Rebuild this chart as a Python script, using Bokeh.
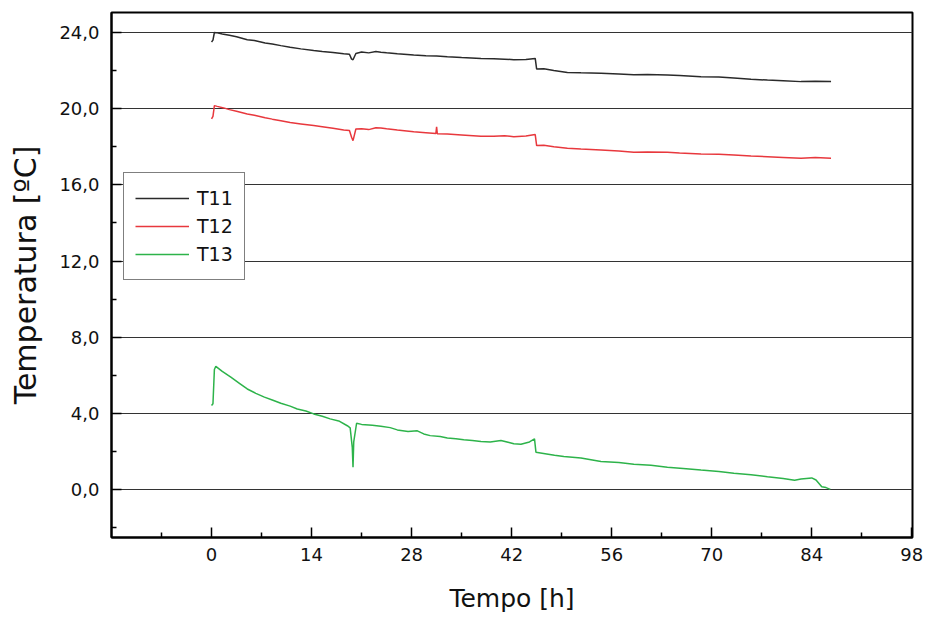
from bokeh.plotting import figure
from bokeh.models import FixedTicker, CustomJSTickFormatter, Range1d, Legend
from bokeh.embed import file_html
from bokeh.resources import INLINE

# ---- data ----
t11_t = [0.0, 0.2, 0.4, 0.8, 1.5, 2.5, 3.5, 5.0, 6.0, 7.5,
         8.5, 9.7, 11.0, 12.5, 14.3, 15.5, 17.0, 18.5, 19.3, 19.6,
         19.8, 20.2, 21.0, 22.0, 23.0, 23.7, 24.5, 26.0, 28.3, 30.0,
         31.5, 33.0, 35.0, 37.7, 39.5, 41.0, 42.3, 44.0, 45.3, 45.5,
         46.5, 47.9, 49.8, 51.7, 54.5, 57.0, 59.1, 61.0, 63.8, 65.5,
         68.5, 71.0, 73.1, 75.5, 77.8, 80.0, 82.5, 84.5, 86.7]
t11_v = [23.5, 23.6, 24.0, 23.98, 23.92, 23.85, 23.78, 23.62, 23.58, 23.45,
         23.40, 23.31, 23.22, 23.14, 23.05, 23.0, 22.95, 22.88, 22.86, 22.6,
         22.57, 22.9, 22.98, 22.93, 23.0, 22.96, 22.93, 22.88, 22.82, 22.78,
         22.77, 22.73, 22.69, 22.64, 22.62, 22.60, 22.57, 22.58, 22.64, 22.08,
         22.1, 22.0, 21.9, 21.88, 21.86, 21.82, 21.78, 21.79, 21.77, 21.74,
         21.68, 21.66, 21.61, 21.55, 21.5, 21.47, 21.42, 21.44, 21.42]

t12_t = [0.0, 0.2, 0.4, 0.8, 1.7, 2.5, 3.5, 5.0, 6.0, 7.5,
         8.5, 9.7, 11.0, 12.5, 14.3, 15.5, 17.0, 18.5, 19.3, 19.6,
         19.8, 20.2, 21.0, 22.0, 23.0, 23.7, 24.5, 26.0, 28.3, 30.0,
         31.4, 31.5, 31.6, 33.0, 35.0, 37.7, 39.5, 41.0, 42.3, 44.0,
         45.3, 45.5, 46.5, 47.9, 49.8, 51.7, 54.5, 57.0, 59.1, 61.0,
         63.8, 65.5, 68.5, 71.0, 73.1, 75.5, 77.8, 80.0, 82.5, 84.5,
         86.7]
t12_v = [19.46, 19.6, 20.16, 20.12, 20.04, 19.95, 19.86, 19.72, 19.65, 19.52,
         19.45, 19.37, 19.27, 19.2, 19.11, 19.05, 18.97, 18.88, 18.85, 18.5,
         18.32, 18.93, 18.95, 18.9, 19.0, 18.99, 18.95, 18.88, 18.79, 18.74,
         18.70, 19.05, 18.68, 18.67, 18.62, 18.55, 18.55, 18.58, 18.53, 18.56,
         18.64, 18.06, 18.08, 18.0, 17.92, 17.88, 17.83, 17.78, 17.71, 17.73,
         17.71, 17.67, 17.62, 17.6, 17.57, 17.52, 17.48, 17.44, 17.39, 17.43,
         17.4]

t13_t = [0.0, 0.2, 0.4, 0.6, 1.5, 2.7, 4.0, 5.0, 6.2, 7.4,
         8.5, 9.7, 11.0, 12.0, 13.2, 14.3, 15.5, 16.6, 17.8, 19.0,
         19.4, 19.7, 19.8, 19.9, 20.3, 21.0, 22.5, 23.7, 25.0, 26.0,
         27.5, 28.8, 29.7, 30.6, 32.0, 33.0, 34.2, 35.3, 36.5, 37.7,
         39.0, 40.5, 41.5, 42.3, 43.3, 44.5, 45.2, 45.4, 46.9, 48.0,
         49.3, 51.7, 54.5, 57.0, 59.1, 61.5, 63.8, 66.0, 68.5, 71.0,
         73.1, 75.5, 77.8, 80.0, 81.6, 82.5, 84.0, 84.6, 85.4, 86.0,
         86.6]
t13_v = [4.41, 4.5, 6.3, 6.47, 6.2, 5.9, 5.55, 5.28, 5.05, 4.85,
         4.7, 4.53, 4.38, 4.23, 4.12, 3.97, 3.85, 3.71, 3.6, 3.35,
         3.24, 2.2, 1.17, 2.5, 3.48, 3.42, 3.38, 3.32, 3.25, 3.13,
         3.05, 3.08, 2.92, 2.83, 2.78, 2.71, 2.66, 2.61, 2.58, 2.52,
         2.5, 2.57, 2.48, 2.4, 2.38, 2.5, 2.66, 1.96, 1.87, 1.8,
         1.73, 1.66, 1.47, 1.42, 1.33, 1.27, 1.17, 1.1, 1.02, 0.95,
         0.85, 0.78, 0.67, 0.58, 0.49, 0.55, 0.61, 0.5, 0.14, 0.1,
         0.01]

series_names = ["T11", "T12", "T13"]
series_colors = ["#2a2a2a", "#e8383d", "#2db34a"]

x_major = [0, 14, 28, 42, 56, 70, 84, 98]
x_minor = [-7, 7, 21, 35, 49, 63, 77, 91]
y_major = [0, 4, 8, 12, 16, 20, 24]
y_minor = [-2, 2, 6, 10, 14, 18, 22]

FONT = "DejaVu Sans"

p = figure(width=928, height=619, output_backend="svg", toolbar_location=None,
           x_range=Range1d(-14, 98.1), y_range=Range1d(-2.52, 25.05),
           min_border_left=111, min_border_right=16,
           min_border_top=12, min_border_bottom=82)
p.background_fill_color = "white"
p.border_fill_color = "white"
p.outline_line_color = "black"
p.outline_line_width = 2

renderers = []
for name, tt, vv, col in zip(series_names, [t11_t, t12_t, t13_t],
                             [t11_v, t12_v, t13_v], series_colors):
    r = p.line(tt, vv, line_color=col, line_width=1.5)
    renderers.append((name, [r]))

p.xaxis.ticker = FixedTicker(ticks=x_major, minor_ticks=x_minor)
p.yaxis.ticker = FixedTicker(ticks=y_major, minor_ticks=y_minor)
p.yaxis.formatter = CustomJSTickFormatter(code="return tick.toFixed(1).replace('.', ',');")

for ax in (p.xaxis, p.yaxis):
    ax.axis_line_color = "black"
    ax.axis_line_width = 2
    ax.major_tick_in = 10
    ax.major_tick_out = 0
    ax.minor_tick_in = 5
    ax.minor_tick_out = 0
    ax.major_tick_line_color = "black"
    ax.minor_tick_line_color = "black"
    ax.major_tick_line_width = 1.5
    ax.minor_tick_line_width = 1.5
    ax.major_label_text_font = FONT
    ax.major_label_text_font_size = "18px"
    ax.major_label_text_color = "#111111"
    ax.axis_label_text_font = FONT
    ax.axis_label_text_font_style = "normal"
    ax.axis_label_text_color = "#111111"

p.xaxis.axis_label = "Tempo [h]"
p.xaxis.axis_label_text_font_size = "25px"
p.xaxis.major_label_standoff = 10
p.xaxis.axis_label_standoff = 20
p.yaxis.axis_label = "Temperatura [ºC]"
p.yaxis.axis_label_text_font_size = "30px"
p.yaxis.major_label_standoff = 12
p.yaxis.axis_label_standoff = 13

p.xgrid.visible = False
p.ygrid.grid_line_color = "#333333"
p.ygrid.grid_line_width = 1.2

legend = Legend(items=renderers, location=(12, 257))
legend.border_line_color = "black"
legend.border_line_width = 1.5
legend.background_fill_color = "white"
legend.background_fill_alpha = 1.0
legend.label_text_font = FONT
legend.label_text_font_size = "19px"
legend.label_text_color = "#111111"
legend.glyph_width = 54
legend.glyph_height = 28
legend.label_height = 28
legend.label_standoff = 8
legend.spacing = 0
legend.padding = 11
legend.margin = 0
p.add_layout(legend)

open("out.html", "w").write(file_html(p, INLINE))
